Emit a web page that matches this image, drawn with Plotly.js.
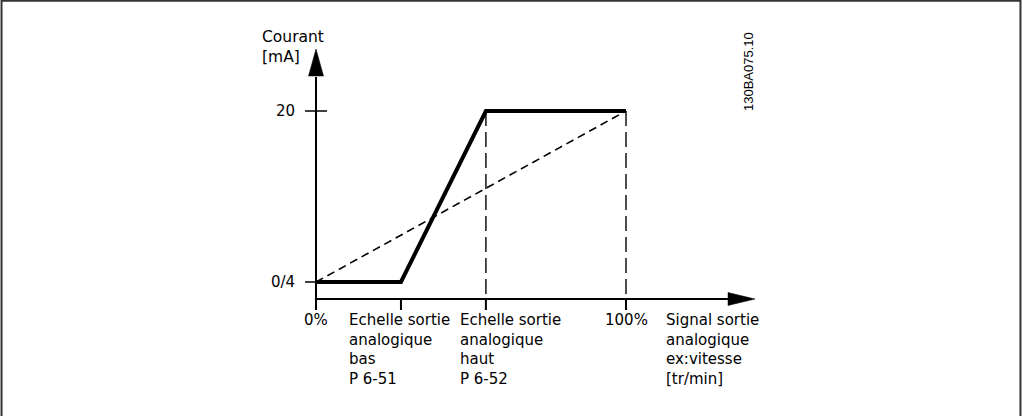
<!DOCTYPE html>
<html>
<head>
<meta charset="utf-8">
<script src="https://cdn.plot.ly/plotly-3.0.1.min.js"></script>
<style>html,body{margin:0;padding:0;background:#fff;}#chart{width:1022px;height:416px;}</style>
</head>
<body>
<div id="chart"></div>
<script>
// Data (x: output signal in %, y: current in mA)
const xTickVals = [0, 27.4, 54.8, 100];
const xTickLabels = ["0%", "Echelle sortie<br>analogique<br>bas<br>P 6-51", "Echelle sortie<br>analogique<br>haut<br>P 6-52", "100%"];
const yTickVals = [4, 20];
const yTickLabels = ["0/4", "20"];
const curveX = [0, 27.4, 54.8, 100];
const curveY = [4, 4, 20, 20];
const linearX = [0, 100];
const linearY = [4, 20];
const yAxisTitle = "Courant<br>[mA]";
const xAxisTitle = "Signal sortie<br>analogique<br>ex:vitesse<br>[tr/min]";
const docId = "130BA075.10";

// axis geometry
const xRange = [-101.94, 227.74];
const yRange = [-8.538, 30.386];
const W = 1022, H = 416;
const pxX = (xRange[1] - xRange[0]) / W;   // data units per px
const pxY = (yRange[1] - yRange[0]) / H;
// convert page pixel position to axis position (layout helpers only)
const X = px => xRange[0] + px * pxX;
const Y = py => yRange[1] - py * pxY;

const yBase = Y(299);          // level of the horizontal axis
const xArrowTip = X(755);
const yArrowTip = Y(49);

const FONT = "DejaVu Sans, Verdana, sans-serif";
const black = "#000";

const traces = [
  {x: linearX, y: linearY, mode: "lines", line: {color: black, width: 1.6, dash: "8px,5px"}, hoverinfo: "skip"},
  {x: [curveX[2], curveX[2]], y: [curveY[2], yBase], mode: "lines", line: {color: "#222", width: 1.6, dash: "15px,6px"}, hoverinfo: "skip"},
  {x: [curveX[3], curveX[3]], y: [curveY[3], yBase], mode: "lines", line: {color: "#222", width: 1.6, dash: "15px,6px"}, hoverinfo: "skip"},
  {x: curveX, y: curveY, mode: "lines", line: {color: black, width: 4}, hoverinfo: "skip"}
];

const shapes = [];
// border (top, left, right)
shapes.push({type: "line", xref: "paper", yref: "paper", x0: 0.001, x1: 0.999, y0: 0.998, y1: 0.998, line: {color: "#333", width: 2}});
shapes.push({type: "line", xref: "paper", yref: "paper", x0: 0.0015, x1: 0.0015, y0: 0, y1: 1, line: {color: "#333", width: 2}});
shapes.push({type: "line", xref: "paper", yref: "paper", x0: 0.9985, x1: 0.9985, y0: 0, y1: 1, line: {color: "#333", width: 2}});
// horizontal axis
const xArrowBase = xArrowTip - 27 * pxX;
shapes.push({type: "line", x0: 0, x1: xArrowBase + 1 * pxX, y0: yBase, y1: yBase, line: {color: black, width: 2}});
shapes.push({type: "path", path: `M ${xArrowBase} ${yBase + 6.5 * pxY} L ${xArrowTip} ${yBase} L ${xArrowBase} ${yBase - 6.5 * pxY} Z`, fillcolor: black, line: {color: black, width: 0.5}});
// vertical axis
const yArrowBase = yArrowTip - 27 * pxY;
const yBelow = yBase - 11 * pxY;
shapes.push({type: "line", x0: 0, x1: 0, y0: yBelow, y1: yArrowBase - 1 * pxY, line: {color: black, width: 2}});
shapes.push({type: "path", path: `M ${-7.5 * pxX} ${yArrowBase} L 0 ${yArrowTip} L ${7.5 * pxX} ${yArrowBase} Z`, fillcolor: black, line: {color: black, width: 0.5}});
// x ticks
xTickVals.slice(1).forEach(v => shapes.push({type: "line", x0: v, x1: v, y0: yBase, y1: yBelow, line: {color: black, width: 2}}));
// y ticks
shapes.push({type: "line", x0: -11 * pxX, x1: 11 * pxX, y0: yTickVals[1], y1: yTickVals[1], line: {color: black, width: 1.5}});
shapes.push({type: "line", x0: -11 * pxX, x1: 0, y0: yTickVals[0], y1: yTickVals[0], line: {color: black, width: 1.5}});

const fnt = {family: FONT, size: 15, color: black};
const annotations = [];
// y tick labels
yTickVals.forEach((v, i) => annotations.push({x: X(297), y: v, text: yTickLabels[i], showarrow: false, xanchor: "right", yanchor: "middle", font: fnt}));
// y axis title
annotations.push({x: X(260), y: Y(26), text: yAxisTitle, showarrow: false, xanchor: "left", yanchor: "top", align: "left", font: {family: FONT, size: 15.5, color: black}});
// x tick labels
const xLabelLeftPx = [null, 347, 458, null];
xTickVals.forEach((v, i) => {
  const ann = {y: Y(309), text: xTickLabels[i], showarrow: false, yanchor: "top", align: "left", font: fnt};
  if (xLabelLeftPx[i] === null) { ann.x = v; ann.xanchor = "center"; }
  else { ann.x = X(xLabelLeftPx[i]); ann.xanchor = "left"; }
  annotations.push(ann);
});
// x axis title
annotations.push({x: X(664), y: Y(309), text: xAxisTitle, showarrow: false, xanchor: "left", yanchor: "top", align: "left", font: fnt});
// document id
annotations.push({x: X(748), y: Y(72), text: docId, showarrow: false, textangle: -90, xanchor: "center", yanchor: "middle", font: {family: "Liberation Sans, Arial, sans-serif", size: 13, color: black}});

const layout = {
  width: W, height: H,
  margin: {l: 0, r: 0, t: 0, b: 0},
  paper_bgcolor: "#fff", plot_bgcolor: "#fff",
  showlegend: false,
  xaxis: {range: xRange, visible: false, fixedrange: true},
  yaxis: {range: yRange, visible: false, fixedrange: true},
  shapes, annotations
};
Plotly.newPlot("chart", traces, layout, {staticPlot: true, displayModeBar: false});
</script>
</body>
</html>
